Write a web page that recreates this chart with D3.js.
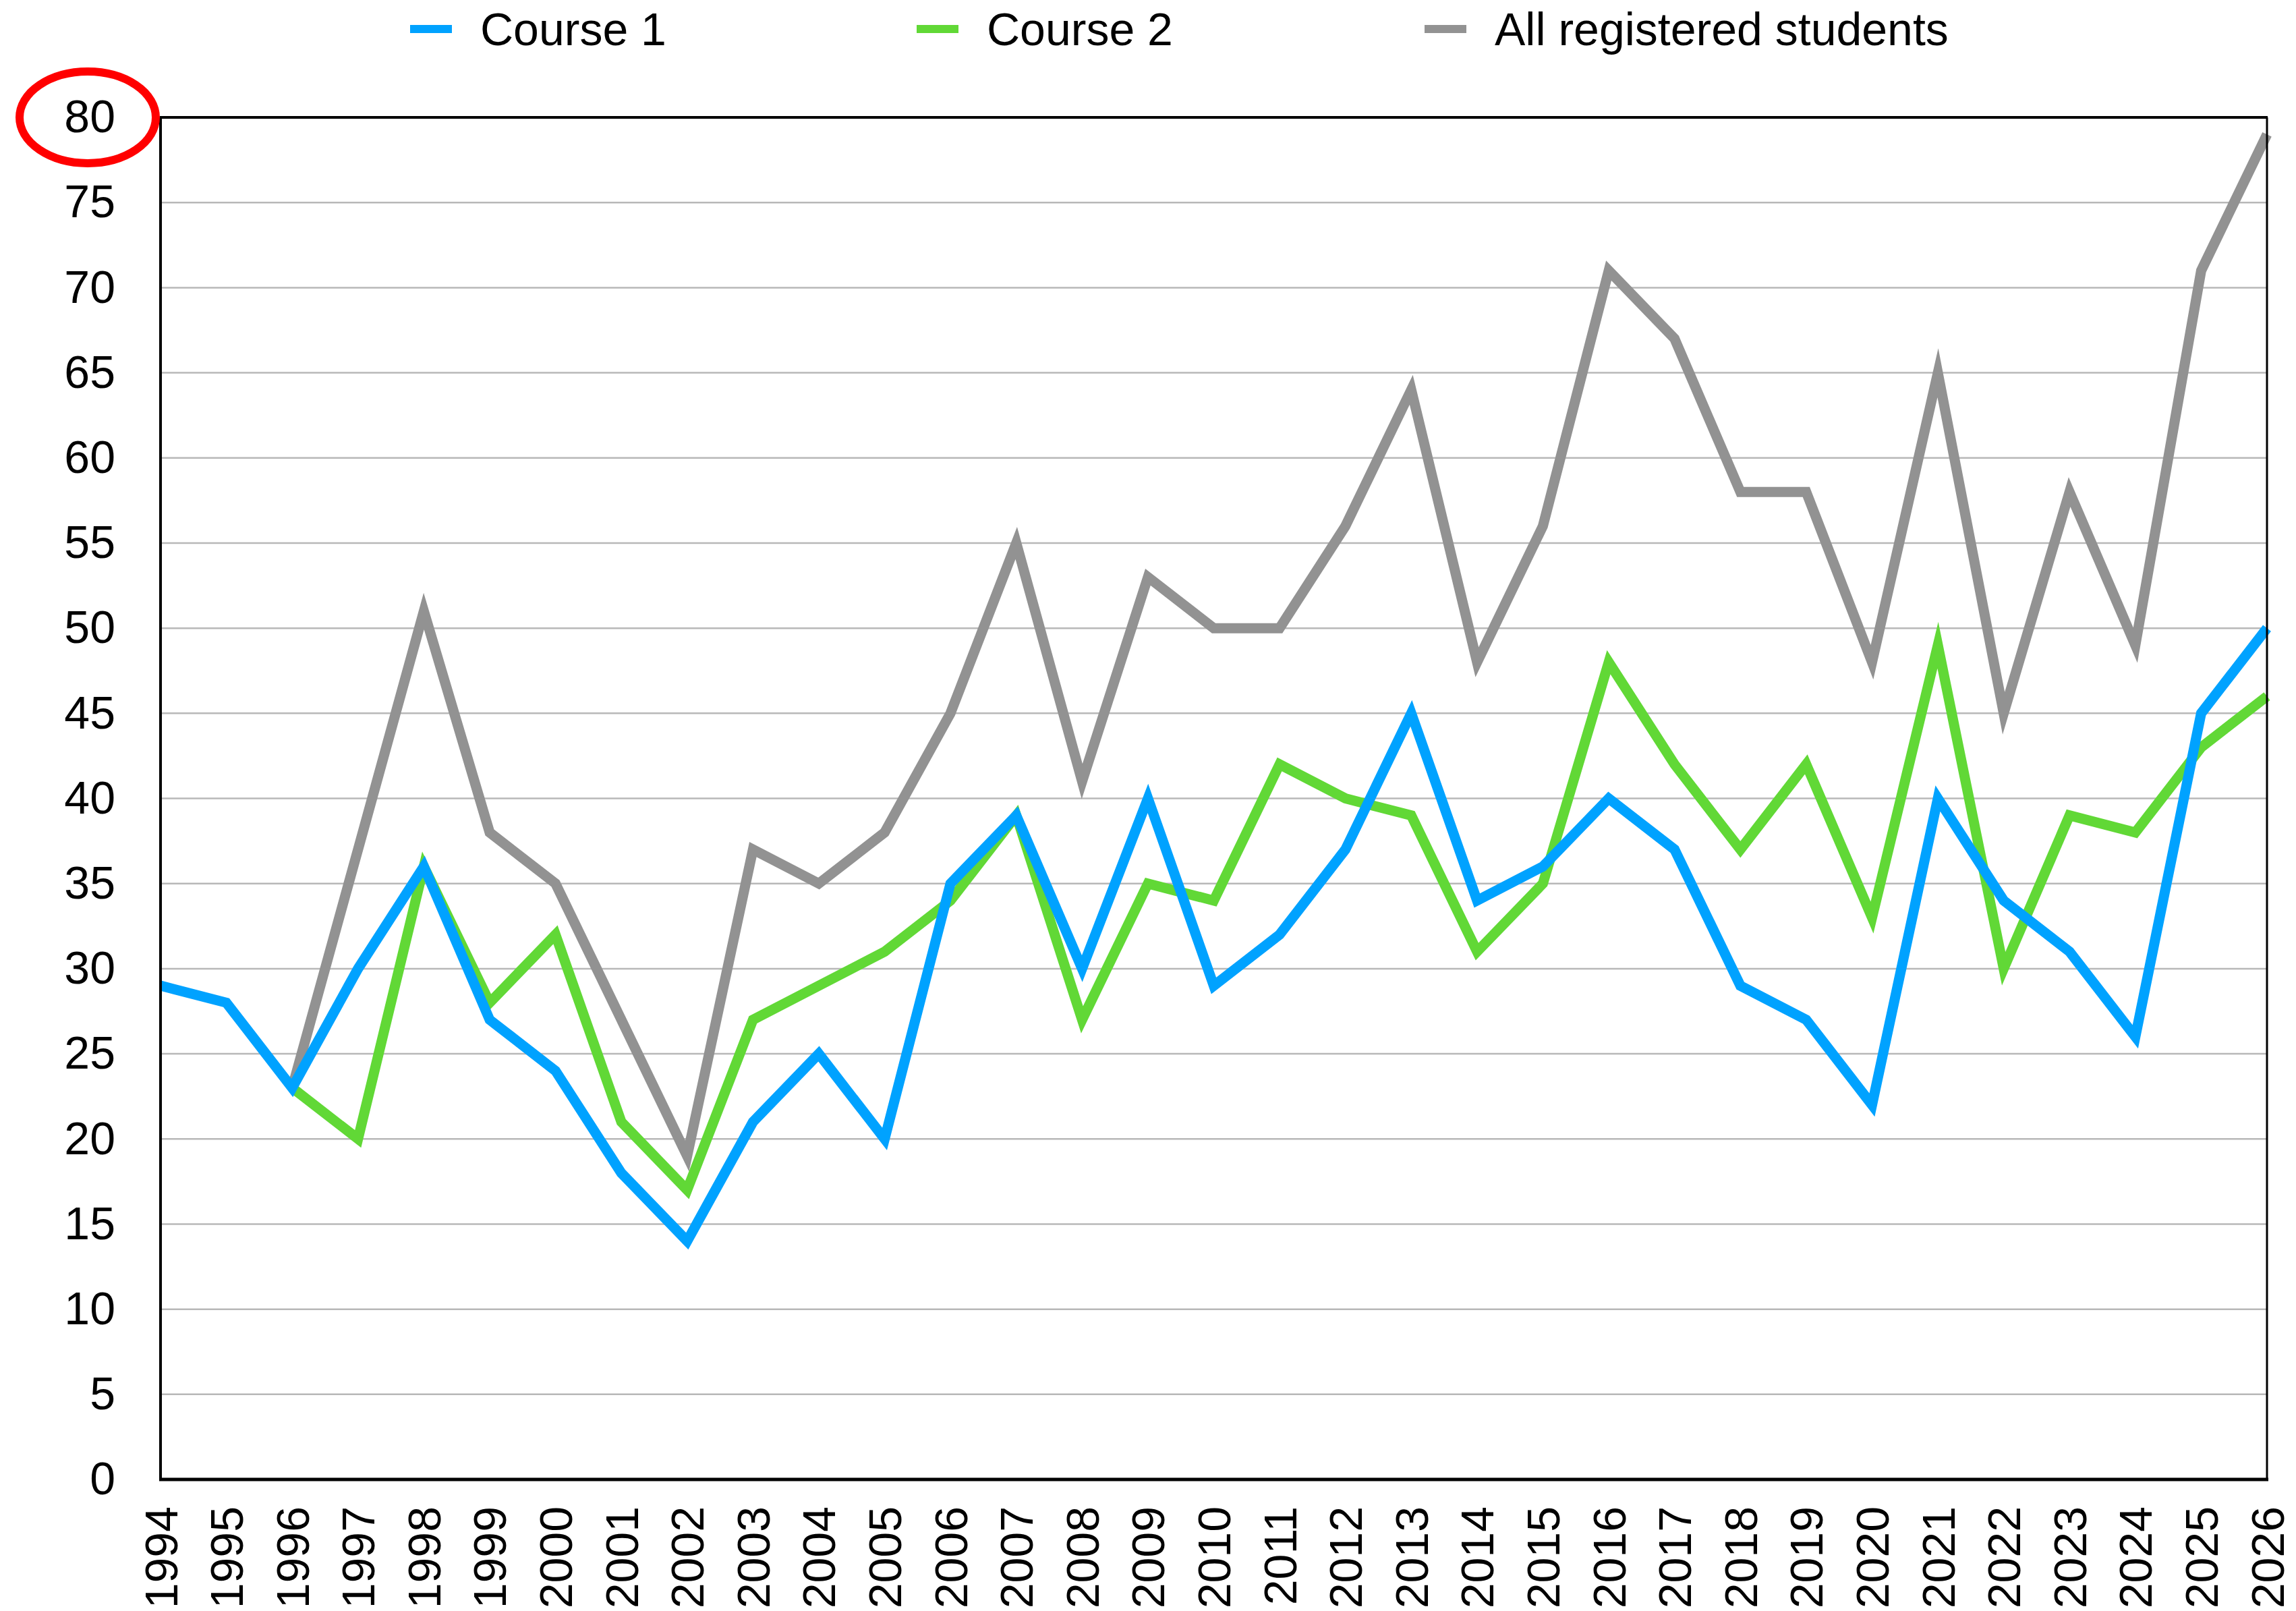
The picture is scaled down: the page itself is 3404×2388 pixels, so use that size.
<!DOCTYPE html>
<html>
<head>
<meta charset="utf-8">
<script src="https://cdn.jsdelivr.net/npm/d3@7"></script>
<style>
  html, body { margin: 0; padding: 0; background: #fff; }
  svg { display: block; font-family: "Liberation Sans", Arial, Helvetica, sans-serif; }
</style>
</head>
<body>
<svg id="chart" width="3404" height="2388"></svg>
<script>
// Years on the horizontal axis
const years = d3.range(1994, 2027);

// Enrolment per year (null = no data for that year)
const course1 = [29, 28, 23, 30, 36, 27, 24, 18, 14, 21, 25, 20, 35, 39, 30, 40, 29,
                 32, 37, 45, 34, 36, 40, 37, 29, 27, 22, 40, 34, 31, 26, 45, 50];
const course2 = [null, null, 23, 20, 36, 28, 32, 21, 17, 27, 29, 31, 34, 39, 27, 35, 34,
                 42, 40, 39, 31, 35, 48, 42, 37, 42, 33, 49, 30, 39, 38, 43, 46];
const allStudents = [null, null, 23, 37, 51, 38, 35, 27, 19, 37, 35, 38, 45, 55, 41, 53, 50,
                     50, 56, 64, 48, 56, 71, 67, 58, 58, 48, 65, 45, 58, 49, 71, 79];

const seriesNames = ["Course 1", "Course 2", "All registered students"];
const seriesColors = ["#00A2FF", "#61D836", "#929292"];
const yTicks = d3.range(0, 81, 5);

const W = 3404, H = 2388;
const margin = { left: 238, right: 43, top: 174, bottom: 195 };
const plotW = W - margin.left - margin.right;
const plotH = H - margin.top - margin.bottom;
const fontSize = 68;

const svg = d3.select("#chart");

const x = d3.scalePoint().domain(years).range([0, plotW]).padding(0);
const y = d3.scaleLinear().domain([0, 80]).range([plotH, 0]);

const g = svg.append("g").attr("transform", `translate(${margin.left},${margin.top})`);

// Horizontal gridlines
g.append("g")
  .selectAll("line")
  .data(yTicks.filter(t => t > 0 && t < 80))
  .join("line")
  .attr("x1", 0).attr("x2", plotW)
  .attr("y1", d => y(d)).attr("y2", d => y(d))
  .attr("stroke", "#b8b8b8")
  .attr("stroke-width", 2.5);

// Y axis labels
const yAxis = d3.axisLeft(y).tickValues(yTicks).tickSize(0).tickPadding(67);
const yG = g.append("g").call(yAxis);
yG.select(".domain").remove();
yG.selectAll("text")
  .attr("font-size", fontSize)
  .attr("font-family", "Liberation Sans, Arial, sans-serif")
  .attr("fill", "#000");

// X axis labels, rotated to read upward
const xAxis = d3.axisBottom(x).tickSize(0).tickPadding(0);
const xG = g.append("g").attr("transform", `translate(0,${plotH})`).call(xAxis);
xG.select(".domain").remove();
xG.selectAll("text")
  .attr("font-size", fontSize)
  .attr("font-family", "Liberation Sans, Arial, sans-serif")
  .attr("fill", "#000")
  .attr("text-anchor", "end")
  .attr("dy", null)
  .attr("dominant-baseline", "central")
  .attr("transform", "translate(0,40) rotate(-90)")
  .attr("x", 0).attr("y", 0);

// Series lines (total first, so the course lines sit on top)
const series = [
  { name: seriesNames[2], color: seriesColors[2], values: allStudents },
  { name: seriesNames[1], color: seriesColors[1], values: course2 },
  { name: seriesNames[0], color: seriesColors[0], values: course1 }
];

const line = d3.line()
  .defined(d => d.v != null)
  .x(d => x(d.year))
  .y(d => y(d.v));

g.append("g")
  .selectAll("path")
  .data(series)
  .join("path")
  .attr("d", s => line(years.map((yr, i) => ({ year: yr, v: s.values[i] }))))
  .attr("fill", "none")
  .attr("stroke", s => s.color)
  .attr("stroke-width", 15)
  .attr("stroke-linejoin", "miter")
  .attr("stroke-miterlimit", 10)
  .attr("stroke-linecap", "butt");

// Plot frame
const frame = g.append("g").attr("stroke", "#000").attr("fill", "none");
frame.append("line").attr("x1", -1).attr("x2", plotW + 1).attr("y1", 0).attr("y2", 0).attr("stroke-width", 4);
frame.append("line").attr("x1", -2).attr("x2", plotW + 2).attr("y1", plotH).attr("y2", plotH).attr("stroke-width", 5);
frame.append("line").attr("x1", 0).attr("x2", 0).attr("y1", 0).attr("y2", plotH).attr("stroke-width", 4);
frame.append("line").attr("x1", plotW).attr("x2", plotW).attr("y1", 0).attr("y2", plotH).attr("stroke-width", 3);

// Legend
const legendItems = [
  { name: seriesNames[0], color: seriesColors[0], x: 608 },
  { name: seriesNames[1], color: seriesColors[1], x: 1359 },
  { name: seriesNames[2], color: seriesColors[2], x: 2112 }
];
const legend = svg.append("g");
const li = legend.selectAll("g").data(legendItems).join("g")
  .attr("transform", d => `translate(${d.x},43)`);
li.append("rect")
  .attr("x", 0).attr("y", -6).attr("width", 62).attr("height", 12)
  .attr("fill", d => d.color);
li.append("text")
  .attr("x", 104).attr("y", 0)
  .attr("dominant-baseline", "central")
  .attr("font-size", fontSize)
  .attr("fill", "#000")
  .text(d => d.name);

// Highlight ring around the top value label
svg.append("ellipse")
  .attr("cx", 130).attr("cy", 174)
  .attr("rx", 101).attr("ry", 68)
  .attr("fill", "none")
  .attr("stroke", "#ff0000")
  .attr("stroke-width", 12);
</script>
</body>
</html>
